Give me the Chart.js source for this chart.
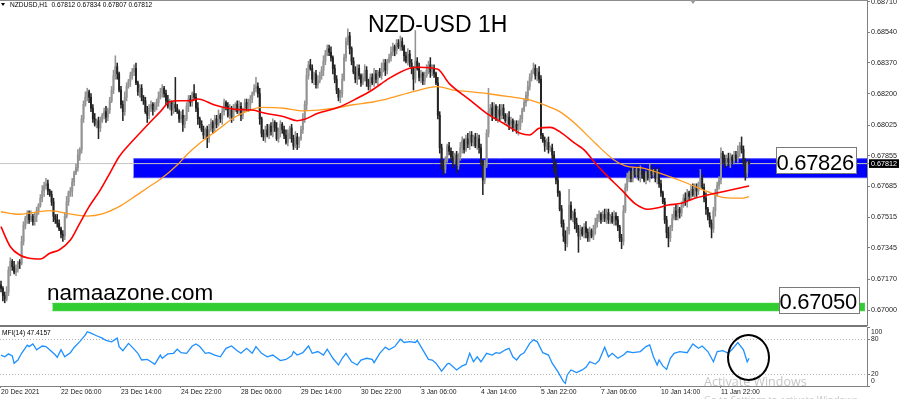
<!DOCTYPE html>
<html>
<head>
<meta charset="utf-8">
<script src="https://cdn.jsdelivr.net/npm/chart.js@4.4.1/dist/chart.umd.min.js"></script>
<style>
  html, body { margin: 0; padding: 0; background: #fff; }
  #wrap { position: relative; width: 900px; height: 399px; overflow: hidden; font-family: "Liberation Sans", Arial, sans-serif; }
  canvas { position: absolute; left: 0; }
  #main { top: 0; }
  #mfi { top: 326px; }
  .t { position: absolute; white-space: nowrap; line-height: 1; color: #000; }
  .line { position: absolute; }
  .box { position: absolute; background: #fff; border: 1px solid #7a7a7a; box-sizing: border-box; }
</style>
</head>
<body>
<div id="wrap">
  <canvas id="main" width="900" height="326"></canvas>
  <canvas id="mfi" width="900" height="73"></canvas>

  <div class="line" style="left:0;top:0;width:867px;height:1px;background:#8c8c8c"></div>
  <div class="line" style="left:0;top:325px;width:867px;height:2px;background:#777"></div>
  <div class="line" style="left:690px;top:0;width:0;height:0;border-left:3.5px solid transparent;border-right:3.5px solid transparent;border-top:4px solid #9a9a9a"></div>
  <div class="line" style="left:1px;top:3px;width:0;height:0;border-left:2.5px solid transparent;border-right:2.5px solid transparent;border-top:3px solid #000"></div>

  <div class="t" style="left:10px;top:1.7px;font-size:6.6px">NZDUSD,H1&nbsp;&nbsp;0.67812 0.67834 0.67807 0.67812</div>
  <div class="t" style="left:368px;top:13.2px;font-size:23px">NZD-USD 1H</div>
  <div class="t" style="left:47px;top:281.7px;font-size:22.5px">namaazone.com</div>

  <div class="box" style="left:776px;top:147px;width:81px;height:27px"></div>
  <div class="t" style="left:776.5px;top:152.1px;font-size:22px;letter-spacing:-0.3px">0.67826</div>
  <div class="box" style="left:779px;top:287px;width:81px;height:27px"></div>
  <div class="t" style="left:779.5px;top:290.7px;font-size:22px;letter-spacing:-0.3px">0.67050</div>

  <div class="t" style="left:2px;top:330.4px;font-size:6.6px">MFI(14) 47.4157</div>
  <div class="t" style="left:704px;top:376.2px;font-size:12.5px;font-family:'Open Sans',sans-serif;color:rgba(150,150,150,0.55)">Activate Windows</div>
  <div class="t" style="left:704px;top:395px;font-size:9.5px;font-family:'Open Sans',sans-serif;color:rgba(150,150,150,0.55)">Go to Settings to activate Windows.</div>
  <div class="line" style="left:727px;top:334px;width:43px;height:47px;border:2px solid #000;border-radius:50%;box-sizing:border-box"></div>
</div>

<script>
const dateLabels = ["20 Dec 2021", "22 Dec 06:00", "23 Dec 14:00", "24 Dec 22:00", "28 Dec 06:00", "29 Dec 14:00",
  "30 Dec 22:00", "3 Jan 06:00", "4 Jan 14:00", "5 Jan 22:00", "7 Jan 06:00", "10 Jan 14:00", "11 Jan 22:00"];
const barsPerLabel = 32;
const priceTicks = [0.67000, 0.67170, 0.67345, 0.67515, 0.67685, 0.67812, 0.67855, 0.68025, 0.68200, 0.68370, 0.68540, 0.68710];
const mfiTicks = [0, 20, 80, 100];
const lastPrice = 0.67812;
const firstOpen = 0.6714;

// hourly closes, open of each bar = previous close
const closes = [
  0.6712,0.6708,0.6706,0.6710,0.6722,0.6727,0.6724,0.6721,0.6723,0.6726,0.6726,0.6738,0.6747,0.6751,0.6753,0.6750,0.6752,0.6749,0.6752,0.6755,
  0.6758,0.6762,0.6766,0.6769,0.6770,0.6766,0.6764,0.6760,0.6752,0.6750,0.6748,0.6745,0.6742,0.6741,0.6752,0.6760,0.6765,0.6766,0.6771,0.6776,
  0.6779,0.6786,0.6789,0.6806,0.6814,0.6818,0.6821,0.6818,0.6812,0.6806,0.6803,0.6805,0.6801,0.6805,0.6808,0.6810,0.6807,0.6811,0.6816,0.6822,
  0.6830,0.6835,0.6831,0.6822,0.6814,0.6810,0.6818,0.6824,0.6827,0.6830,0.6832,0.6834,0.6826,0.6821,0.6823,0.6818,0.6816,0.6810,0.6808,0.6812,
  0.6814,0.6811,0.6813,0.6815,0.6818,0.6821,0.6823,0.6820,0.6816,0.6813,0.6815,0.6811,0.6814,0.6812,0.6810,0.6806,0.6808,0.6803,0.6806,0.6813,
  0.6817,0.6815,0.6820,0.6818,0.6812,0.6806,0.6803,0.6800,0.6797,0.6800,0.6795,0.6800,0.6804,0.6801,0.6806,0.6803,0.6808,0.6806,0.6810,0.6815,
  0.6813,0.6808,0.6811,0.6807,0.6812,0.6814,0.6810,0.6813,0.6808,0.6811,0.6815,0.6812,0.6814,0.6817,0.6820,0.6823,0.6824,0.6820,0.6806,0.6798,
  0.6796,0.6800,0.6797,0.6802,0.6799,0.6804,0.6801,0.6795,0.6799,0.6803,0.6800,0.6797,0.6793,0.6798,0.6801,0.6795,0.6791,0.6796,0.6792,0.6795,
  0.6800,0.6806,0.6814,0.6830,0.6836,0.6834,0.6828,0.6831,0.6825,0.6827,0.6830,0.6833,0.6838,0.6842,0.6845,0.6843,0.6840,0.6834,0.6828,0.6822,
  0.6818,0.6820,0.6828,0.6840,0.6849,0.6852,0.6845,0.6838,0.6832,0.6828,0.6834,0.6830,0.6826,0.6829,0.6833,0.6827,0.6824,0.6829,0.6826,0.6831,
  0.6828,0.6832,0.6830,0.6834,0.6837,0.6833,0.6838,0.6840,0.6843,0.6846,0.6844,0.6848,0.6846,0.6849,0.6846,0.6841,0.6838,0.6842,0.6837,0.6834,
  0.6828,0.6838,0.6834,0.6829,0.6831,0.6827,0.6830,0.6833,0.6836,0.6832,0.6834,0.6831,0.6826,0.6808,0.6790,0.6780,0.6778,0.6783,0.6791,0.6788,
  0.6785,0.6782,0.6786,0.6780,0.6785,0.6790,0.6794,0.6789,0.6795,0.6792,0.6797,0.6793,0.6796,0.6791,0.6795,0.6790,0.6782,0.6772,0.6780,0.6798,
  0.6810,0.6812,0.6808,0.6813,0.6806,0.6811,0.6808,0.6812,0.6808,0.6805,0.6807,0.6803,0.6805,0.6801,0.6803,0.6800,0.6802,0.6806,0.6811,0.6815,
  0.6819,0.6824,0.6829,0.6832,0.6834,0.6830,0.6832,0.6828,0.6797,0.6794,0.6791,0.6793,0.6789,0.6790,0.6786,0.6779,0.6772,0.6765,0.6756,0.6748,
  0.6741,0.6737,0.6744,0.6758,0.6751,0.6754,0.6748,0.6745,0.6741,0.6745,0.6742,0.6746,0.6743,0.6740,0.6744,0.6741,0.6745,0.6748,0.6751,0.6753,
  0.6750,0.6753,0.6751,0.6754,0.6750,0.6752,0.6749,0.6752,0.6750,0.6746,0.6740,0.6738,0.6755,0.6768,0.6774,0.6776,0.6773,0.6777,0.6775,0.6778,
  0.6774,0.6777,0.6775,0.6772,0.6776,0.6774,0.6778,0.6775,0.6777,0.6773,0.6776,0.6770,0.6765,0.6760,0.6750,0.6743,0.6740,0.6746,0.6751,0.6755,
  0.6752,0.6756,0.6754,0.6758,0.6762,0.6760,0.6765,0.6763,0.6767,0.6764,0.6768,0.6766,0.6770,0.6773,0.6768,0.6762,0.6756,0.6752,0.6748,0.6745,
  0.6755,0.6764,0.6769,0.6772,0.6787,0.6784,0.6781,0.6784,0.6782,0.6785,0.6783,0.6786,0.6784,0.6788,0.6791,0.6789,0.6782,0.6776,0.67812,0.67812
];
// wick lengths in pips above / below the candle body
const upWick = [
  2,1,2,3,2,2,1,3,2,1,2,3,2,1,2,2,3,1,2,2, 1,2,3,2,3,2,1,2,2,1,3,2,1,2,2,3,1,2,2,1,
  2,3,1,2,2,3,2,1,2,2,3,1,2,2,1,2,3,1,2,2, 3,6,2,1,2,2,3,2,1,2,2,2,3,1,2,2,1,2,3,2,
  2,1,2,2,3,2,2,1,2,3,2,1,2,15,2,1,2,3,2,2, 2,2,1,5,2,3,1,2,2,1,2,3,2,1,2,2,3,1,2,2,
  1,2,3,2,2,1,2,3,2,1,2,2,3,2,1,2,5,2,3,1, 2,2,3,1,2,2,1,3,2,2,1,2,3,2,1,2,2,3,2,1,
  2,3,2,4,2,3,2,1,2,3,2,2,3,2,2,2,3,1,2,2, 1,2,3,2,2,4,2,1,2,3,2,2,1,2,3,2,1,2,2,3,
  2,1,2,3,2,2,1,2,3,2,1,2,2,3,2,1,2,3,2,2, 1,17,2,3,2,1,2,3,2,4,2,2,1,3,2,2,3,2,1,2,
  2,3,1,2,2,3,2,1,2,3,2,2,1,2,3,2,2,1,3,2, 13,2,3,2,1,2,3,2,2,1,2,3,2,1,2,2,3,2,1,2,
  2,3,2,1,3,2,2,3,2,1,2,2,3,1,2,2,3,2,1,2, 2,3,2,9,2,1,2,3,2,2,1,2,3,2,2,1,2,3,2,2,
  1,2,3,2,2,1,2,3,2,2,1,2,3,2,2,1,3,2,2,1, 2,3,2,2,1,2,3,2,1,2,2,3,2,1,2,2,3,1,2,2,
  3,2,1,2,2,3,2,1,2,3,2,2,1,5,2,2,3,1,2,2, 2,3,2,2,3,1,2,2,3,2,1,2,2,3,2,5,2,2,1,2.2
];
const downWick = [
  2,3,2,1,2,3,2,1,2,2,3,1,2,2,3,2,1,2,2,3, 2,1,2,3,2,2,1,2,3,2,2,1,2,3,2,1,2,2,3,2,
  1,2,3,2,2,1,2,3,2,2,1,2,6,2,1,2,3,2,2,1, 2,2,3,1,2,5,2,2,1,3,2,2,1,2,3,2,2,1,4,2,
  2,3,1,2,2,1,3,2,2,1,2,3,2,2,1,2,2,4,2,1, 3,2,2,1,2,3,2,1,2,2,5,2,1,3,2,2,1,2,3,2,
  2,1,2,3,2,2,1,2,3,2,1,2,2,3,2,1,2,2,3,2, 2,3,1,2,2,3,2,1,2,3,2,2,1,2,3,2,2,1,3,2,
  1,2,2,3,2,1,2,3,2,2,1,2,3,2,1,2,2,3,2,2, 2,3,2,1,2,2,3,2,1,2,3,2,2,1,2,3,2,2,1,2,
  2,3,1,2,2,3,2,1,2,2,3,2,1,2,2,3,1,2,2,3, 6,2,1,2,3,2,2,1,2,3,2,2,1,2,3,2,3,2,1,2,
  2,3,1,4,2,2,3,2,1,2,3,2,2,1,2,3,2,8,2,1, 2,2,3,2,1,2,3,2,2,1,2,3,2,2,1,2,3,2,2,1,
  2,3,2,2,1,2,3,2,2,1,3,2,2,1,2,3,2,2,1,2, 3,4,2,2,1,2,3,2,9,2,1,2,3,2,2,1,2,3,2,2,
  2,1,2,3,2,2,1,2,3,2,2,4,2,1,2,3,2,2,1,2, 2,3,2,1,2,2,3,2,1,2,3,2,2,1,2,3,5,2,2,1,
  2,2,3,2,1,2,3,2,2,1,2,3,2,2,1,2,3,2,2,5, 2,3,1,2,2,3,2,1,2,3,2,2,1,2,3,2,2,4,2,0.5
];

const redBars = [0,5,10,15,21,26,31,37,42,47,53,58,63,69,74,79,85,90,95,101,105,114,125,134,141,151,158,162,169,180,
  190,198,207,218,223,233,239,250,259,268,277,282,287,293,298,306,311,317,322,331,338,345,349,356,363,370,377,385,391,399];
const redMA = [0.67462,0.67351,0.67305,0.67287,0.67283,0.67315,0.67333,0.67388,0.67481,0.67573,
  0.67666,0.67758,0.67850,0.67925,0.67980,0.68036,0.68100,0.68155,0.68161,0.68161,
  0.68170,0.68137,0.68113,0.68109,0.68091,0.68072,0.68050,0.68058,0.68091,0.68124,
  0.68174,0.68220,0.68285,0.68341,0.68346,0.68335,0.68257,0.68165,0.68091,0.68036,
  0.67980,0.67971,0.68008,0.68013,0.67989,0.67925,0.67888,0.67814,0.67758,0.67666,
  0.67592,0.67559,0.67564,0.67582,0.67592,0.67620,0.67638,0.67656,0.67670,0.67688];
const orangeBars = [0,10,26,35,46,54,63,70,79,85,94,99,106,115,125,134,139,151,160,169,178,187,
  199,207,220,233,241,250,261,271,282,293,298,306,317,327,333,343,354,366,377,386,395,399];
const orangeMA = [0.67545,0.67531,0.67551,0.67536,0.67521,0.67533,0.67573,0.67620,0.67684,0.67725,
  0.67804,0.67860,0.67925,0.67995,0.68072,0.68113,0.68124,0.68119,0.68105,0.68109,
  0.68119,0.68137,0.68155,0.68174,0.68211,0.68239,0.68220,0.68211,0.68198,0.68183,
  0.68165,0.68124,0.68100,0.68036,0.67925,0.67832,0.67799,0.67786,0.67749,0.67703,
  0.67656,0.67623,0.67620,0.67629];

const mfiBars = [0,2,4,6,7,9,11,14,15,17, 19,22,24,27,29,30,32,34,37,39, 42,45,46,48,51,54,56,59,62,63,
  65,68,70,73,75,78,80,82,85,86, 89,92,94,96,99,102,104,106,109,111, 114,117,120,123,126,128,131,134,136,139,
  142,145,149,152,155,156,158,161,164,166, 169,172,174,177,180,182,184,187,190,192, 195,198,199,202,205,207,210,213,215,218,
  221,222,225,228,230,232,235,238,239,243, 246,248,250,252,254,256,259,262,264,266, 269,271,273,275,277,279,282,284,286,289,
  292,294,297,300,301,302,304,307,310,312, 314,317,319,322,324,326,329,332,334,337, 341,344,346,348,350,351,353,355,357,359,
  362,366,369,372,374,377,380,382,385,388, 390,393,396,398,399];
const mfiValues = [53,50,55,51.5,39,44.5,56,70,67.5,72, 62,68.5,67.5,59,53,49,62,50,57,66, 76,87.5,93,90.5,86,82,78,75.5,82,67.5,
  60.5,73,66.5,56,44.5,45.5,41.5,37,53,47.5, 55,56,63,57,56,68.5,72,67.5,56,57, 53,50,64.5,68.5,60.5,56,64.5,56,67.5,56,
  50,53,43.5,45.5,51.5,59,53,57,68.5,56, 59,53,63,47.5,36,47.5,56,41.5,36,44.5, 47.5,45.5,40,56,66.5,62,67.5,80,74.5,76,
  74.5,78,62,45.5,44.5,39,25.5,37.5,39,27.5, 34.5,37,56,41.5,50,41.5,56,53,57,56, 62,64.5,50,44.5,53,57,73,79,76,57,
  53,39,24.5,7.5,4.5,19,27.5,23,27.5,32, 41.5,37.5,43.5,66.5,50,56,47.5,53,59,57, 59,67.5,70.5,50,36,44.5,34.5,28.5,47.5,56,
  59,57,72,64.5,68.5,59,41.5,59,60.5,56, 63,74.5,62,41.5,47.42];

const blueZone = [0.67734, 0.67839];
const blueFrom = 70.6;
const greenZone = [0.66996, 0.67037];
const greenFrom = 27.4, greenTo = 460.8;

const pip = 0.0001;
const xMin = -0.53, xMax = 461.9;

const opens = closes.map((c, i) => i ? closes[i - 1] : firstOpen);
const highs = closes.map((c, i) => Math.max(c, opens[i]) + upWick[i] * pip);
const lows = closes.map((c, i) => Math.min(c, opens[i]) - downWick[i] * pip);
const candleColors = closes.map((c, i) => c > opens[i] ? '#939393' : '#232323');

Chart.defaults.font.family = '"Liberation Sans", Arial, sans-serif';
Chart.defaults.color = '#222';

const hLine = (from, to, y) => [{ x: from, y: y }, { x: to, y: y }];
const noPoints = { pointRadius: 0, pointHoverRadius: 0 };

new Chart(document.getElementById('main'), {
  type: 'bar',
  data: {
    datasets: [
      { type: 'line', data: hLine(greenFrom, greenTo, greenZone[1]), borderColor: '#32cd32', borderWidth: 1, ...noPoints, order: 10 },
      { type: 'line', data: hLine(greenFrom, greenTo, greenZone[0]), borderColor: '#32cd32', borderWidth: 1, ...noPoints,
        fill: '-1', backgroundColor: '#32cd32', order: 10 },
      { type: 'line', data: hLine(blueFrom, xMax + 5, blueZone[1]), borderColor: '#4a4aff', borderWidth: 1, ...noPoints, order: 9 },
      { type: 'line', data: hLine(blueFrom, xMax + 5, blueZone[0]), borderColor: '#4a4aff', borderWidth: 1, ...noPoints,
        fill: '-1', backgroundColor: '#0000ff', order: 9 },
      { type: 'line', data: hLine(xMin, xMax, lastPrice), borderColor: '#c4c4c4', borderWidth: 1, ...noPoints, order: 8 },
      { data: closes.map((c, i) => ({ x: i, y: [lows[i], highs[i]] })), backgroundColor: candleColors,
        barThickness: 0.9, grouped: false, order: 5 },
      { data: closes.map((c, i) => ({ x: i, y: [opens[i], c] })), backgroundColor: candleColors,
        barThickness: 1.3, minBarLength: 1, grouped: false, order: 4 },
      { type: 'line', data: orangeBars.map((b, i) => ({ x: b, y: orangeMA[i] })), borderColor: '#ff9a1f', borderWidth: 1.3,
        ...noPoints, cubicInterpolationMode: 'monotone', order: 2 },
      { type: 'line', data: redBars.map((b, i) => ({ x: b, y: redMA[i] })), borderColor: '#ff0000', borderWidth: 1.6,
        ...noPoints, cubicInterpolationMode: 'monotone', order: 1 }
    ]
  },
  options: {
    responsive: false,
    animation: false,
    events: [],
    layout: { padding: 0 },
    plugins: { legend: { display: false }, tooltip: { enabled: false } },
    scales: {
      x: { type: 'linear', min: xMin, max: xMax, display: false, offset: false, grid: { offset: false } },
      y: {
        position: 'right', min: 0.669113, max: 0.687194,
        afterBuildTicks: s => { s.ticks = priceTicks.map(v => ({ value: v })); },
        afterFit: s => { s.width = 33; s.paddingTop = 0; s.paddingBottom = 0; },
        ticks: {
          autoSkip: false, padding: 1, font: { size: 7.2 },
          callback: v => v.toFixed(5),
          color: c => c.tick && c.tick.value === lastPrice ? '#fff' : '#222',
          showLabelBackdrop: c => !!(c.tick && c.tick.value === lastPrice),
          backdropColor: '#000',
          backdropPadding: { top: 0, bottom: 0, left: 2, right: 2 }
        },
        grid: { drawOnChartArea: false, tickLength: 3, color: '#808080' },
        border: { color: '#808080' }
      }
    }
  }
});

new Chart(document.getElementById('mfi'), {
  type: 'line',
  data: {
    datasets: [{
      data: mfiBars.map((b, i) => ({ x: b, y: mfiValues[i] })),
      borderColor: '#1e90ff', borderWidth: 1.3, ...noPoints, tension: 0
    }]
  },
  options: {
    responsive: false,
    animation: false,
    events: [],
    layout: { padding: { top: 1.6 } },
    plugins: { legend: { display: false }, tooltip: { enabled: false } },
    scales: {
      x: {
        type: 'linear', min: xMin, max: xMax, offset: false,
        afterBuildTicks: s => { s.ticks = dateLabels.map((d, i) => ({ value: i * barsPerLabel })); },
        afterFit: s => { s.height = 13; s.paddingLeft = 0; s.paddingRight = 0; },
        ticks: { autoSkip: false, maxRotation: 0, align: 'start', padding: 0, font: { size: 6.8 },
          callback: (v, i) => dateLabels[i] },
        grid: { drawOnChartArea: false, tickLength: 2, color: '#808080' },
        border: { color: '#808080' }
      },
      y: {
        position: 'right', min: 0, max: 100,
        afterBuildTicks: s => { s.ticks = mfiTicks.map(v => ({ value: v })); },
        afterFit: s => { s.width = 33; s.paddingTop = 0; s.paddingBottom = 0; },
        ticks: { autoSkip: false, padding: 1, font: { size: 6.8, lineHeight: 1.45 },
          callback: v => v === 100 ? ['', '100'] : v === 0 ? ['0', ''] : String(v) },
        grid: {
          color: c => c.tick && (c.tick.value === 20 || c.tick.value === 80) ? '#b4b4b4' : 'rgba(0,0,0,0)',
          tickColor: '#808080', tickLength: 3
        },
        border: { color: '#808080', dash: [1, 2] }
      }
    }
  }
});
</script>
</body>
</html>
